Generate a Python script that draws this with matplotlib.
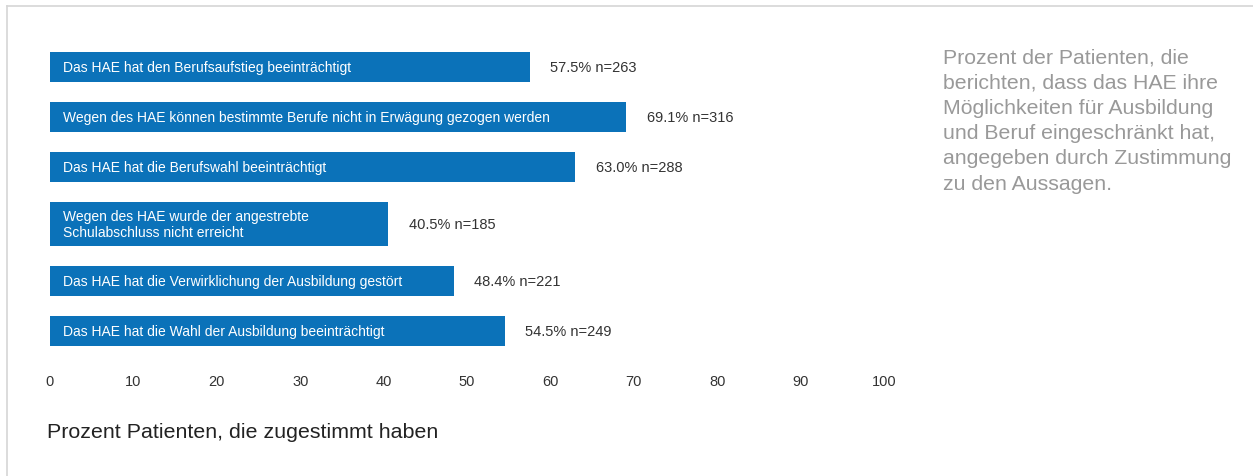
import matplotlib
matplotlib.use("Agg")
import matplotlib.pyplot as plt
from matplotlib.lines import Line2D

plt.rcParams['font.family'] = ['Liberation Sans', 'DejaVu Sans']

statements = [
    "Das HAE hat den Berufsaufstieg beeinträchtigt",
    "Wegen des HAE können bestimmte Berufe nicht in Erwägung gezogen werden",
    "Das HAE hat die Berufswahl beeinträchtigt",
    "Wegen des HAE wurde der angestrebte\nSchulabschluss nicht erreicht",
    "Das HAE hat die Verwirklichung der Ausbildung gestört",
    "Das HAE hat die Wahl der Ausbildung beeinträchtigt",
]
percent = [57.5, 69.1, 63.0, 40.5, 48.4, 54.5]
counts = [263, 316, 288, 185, 221, 249]
xticks = [0, 10, 20, 30, 40, 50, 60, 70, 80, 90, 100]
xlabel = "Prozent Patienten, die zugestimmt haben"
note = ("Prozent der Patienten, die\nberichten, dass das HAE ihre\n"
        "Möglichkeiten für Ausbildung\nund Beruf eingeschränkt hat,\n"
        "angegeben durch Zustimmung\nzu den Aussagen.")

W, H = 1253, 477
fig = plt.figure(figsize=(W / 100, H / 100), dpi=100)

# border lines (top and left)
fig.add_artist(Line2D([7 / W, 1], [1 - 7 / H, 1 - 7 / H], color="#d6d6d6", lw=1.2, transform=fig.transFigure))
fig.add_artist(Line2D([7 / W, 7 / W], [0, 1 - 7 / H], color="#d6d6d6", lw=1.2, transform=fig.transFigure))

# bar layout (heights in pixel-like units)
heights = [44 if "\n" in s else 30 for s in statements]
gap = 20
centers = []
y = 0
for h in heights:
    centers.append(y + h / 2)
    y += h + gap
total = y - gap

ax_left, ax_right = 50, 884
ax_top, ax_bot = 53, 53 + total
ax = fig.add_axes([ax_left / W, 1 - ax_bot / H, (ax_right - ax_left) / W, total / H])
ax.barh(centers, percent, height=heights, color="#0b72b9", edgecolor="none")
ax.set_xlim(0, 100)
ax.set_ylim(total, 0)

for c, s, p, n in zip(centers, statements, percent, counts):
    ax.annotate(s, xy=(0, c), xytext=(9.5, 0), textcoords="offset points",
                ha="left", va="center", color="white", fontsize=10, linespacing=1.1)
    ax.annotate(f"{p:.1f}% n={n}", xy=(p, c), xytext=(15, 0), textcoords="offset points",
                ha="left", va="center", color="#333333", fontsize=10.5)

for sp in ax.spines.values():
    sp.set_visible(False)
ax.set_yticks([])
ax.set_xticks(xticks)
ax.tick_params(axis="x", length=0, pad=20, labelsize=10.5, labelcolor="#333333")

fig.text(47 / W, 1 - 433 / H, xlabel, ha="left", va="center", fontsize=15.4, color="#222222")
fig.text(943 / W, 1 - 48 / H, note, ha="left", va="top", fontsize=15.3, color="#999999", linespacing=1.42)

fig.savefig("out.png", dpi=100)
